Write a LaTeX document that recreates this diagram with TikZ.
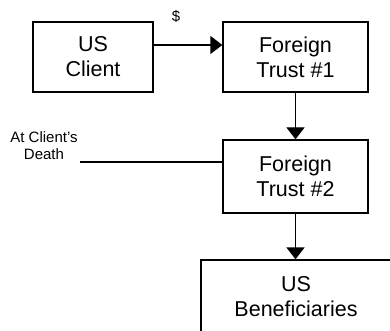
\documentclass[tikz,border=0pt]{standalone}
\usepackage{fontspec}
\setmainfont{Liberation Sans}
\usetikzlibrary{arrows.meta}
\begin{document}
\begin{tikzpicture}[x=1pt,y=-1pt,
  box/.style={draw,line width=1.3pt,inner sep=0pt,align=center,
    font=\fontsize{21.5}{25}\selectfont},
  side/.style={inner sep=0pt,align=center,font=\fontsize{15}{16.5}\selectfont},
  arr/.style={line width=1.3pt,-{Triangle[length=12pt,width=18pt]}},
  plain/.style={line width=1.3pt}]
\useasboundingbox (0,0) rectangle (390,331);
\clip (0,0) rectangle (390,331);
\node[box,minimum width=120pt,minimum height=70pt] (cl) at (93,57) {US\\Client};
\node[box,minimum width=145pt,minimum height=70pt] (ft1) at (295.5,57) {Foreign\\Trust \#1};
\node[box,minimum width=145pt,minimum height=73pt] (ft2) at (295.5,176.5) {Foreign\\Trust \#2};
\node[box,minimum width=190pt,minimum height=73pt] (ben) at (296,296.5) {US\\Beneficiaries};
\node[side,anchor=base] (dol) at (176,21.5) {\$};
\node[side] (death) at (44,145.7) {At Client’s\\Death};
\coordinate (ya) at (0,45);
\coordinate (dl) at (80,162);
\draw[arr] (cl.east |- ya) -- (ft1.west |- ya);
\draw[arr] (ft1.south) -- (ft2.north);
\draw[arr] (ft2.south) -- (ft2.south |- ben.north);
\draw[plain] (dl) -- (dl -| ft2.west);
\end{tikzpicture}
\end{document}
